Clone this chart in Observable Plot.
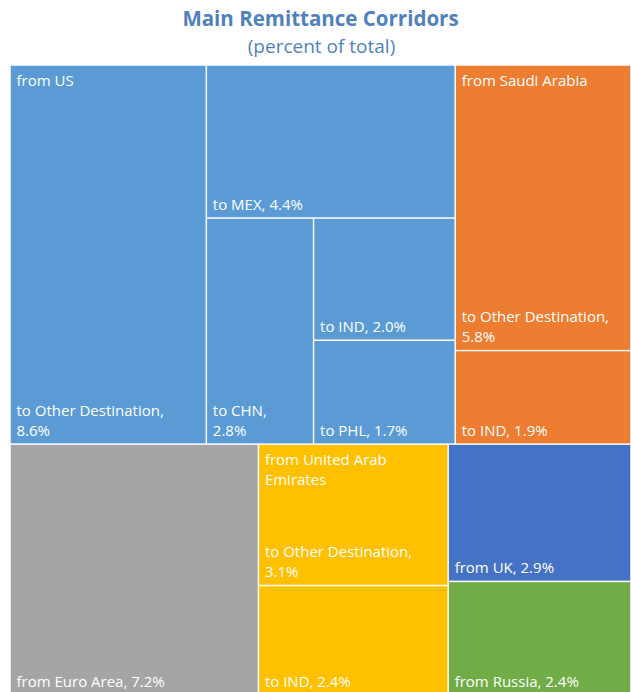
<!DOCTYPE html>
<html>
<head>
<meta charset="utf-8">
<script src="https://cdn.jsdelivr.net/npm/d3@7"></script>
<script src="https://cdn.jsdelivr.net/npm/@observablehq/plot@0.6"></script>
<style>
  html, body { margin: 0; padding: 0; background: #fff; overflow: hidden; }
  #title { font: bold 20.5px 'Open Sans', sans-serif; color: #4F81BD; text-align: center; height: 36px; line-height: 36px; padding-left: 10px; }
  #subtitle { font: 19px 'Open Sans', sans-serif; color: #4F81BD; text-align: center; height: 20px; line-height: 20px; padding-left: 12px; }
</style>
</head>
<body>
<div id="title">Main Remittance Corridors</div>
<div id="subtitle">(percent of total)</div>
<div id="chart"></div>
<script>
// ---- data ----
const sources = ["US", "US", "US", "US", "US", "Saudi Arabia", "Saudi Arabia", "Euro Area", "United Arab Emirates", "United Arab Emirates", "UK", "Russia"];
const destinations = ["Other Destination", "MEX", "CHN", "IND", "PHL", "Other Destination", "IND", null, "Other Destination", "IND", null, null];
const shares = [8.6, 4.4, 2.8, 2.0, 1.7, 5.8, 1.9, 7.2, 3.1, 2.4, 2.9, 2.4];
const groupNames = ["US", "Saudi Arabia", "Euro Area", "United Arab Emirates", "UK", "Russia"];
const groupColors = ["#5B9BD5", "#ED7D31", "#A5A5A5", "#FFC000", "#4472C4", "#70AD47"];

const rows = shares.map((s, i) => ({source: sources[i], destination: destinations[i], share: s}));

// ---- layout ----
const W = 621, H = 630;
const squarify = d3.treemapSquarify.ratio(1);
function tile(node, x0, y0, x1, y1) {
  (node.depth === 0 ? squarify : d3.treemapBinary)(node, x0, y0, x1, y1);
}
const root = d3.hierarchy(d3.group(rows, d => d.source))
  .sum(d => d.share)
  .sort((a, b) => b.value - a.value);
d3.treemap().size([W, H]).tile(tile).round(false)(root);
const leaves = root.leaves();
const headers = root.children.filter(g => g.children.length > 1 || g.children[0].data.destination);

const fontSize = 15;
const ctx = document.createElement("canvas").getContext("2d");
ctx.font = `${fontSize}px 'Open Sans'`;
function wrap(text, maxWidth) {
  const words = text.split(" ");
  const lines = [];
  let line = "";
  for (const w of words) {
    const t = line ? line + " " + w : w;
    if (line && ctx.measureText(t).width > maxWidth) { lines.push(line); line = w; }
    else line = t;
  }
  if (line) lines.push(line);
  return lines.join("\n");
}
const leafLabel = d => {
  const r = d.data;
  const t = r.destination ? `to ${r.destination}, ${r.share.toFixed(1)}%` : `from ${r.source}, ${r.share.toFixed(1)}%`;
  return wrap(t, d.x1 - d.x0 - 20);
};
const headerLabel = g => wrap(`from ${g.data[0]}`, g.x1 - g.x0 - 20);

const chart = Plot.plot({
  width: 631,
  height: 639,
  marginLeft: 10,
  marginRight: 0,
  marginTop: 9,
  marginBottom: 0,
  style: {fontFamily: "'Open Sans', sans-serif"},
  x: {domain: [0, W], axis: null},
  y: {domain: [0, H], axis: null, reverse: true},
  color: {domain: groupNames, range: groupColors},
  marks: [
    Plot.rect(leaves, {x1: "x0", x2: "x1", y1: "y0", y2: "y1", fill: d => d.data.source, inset: 0.75}),
    Plot.text(leaves, {x: "x0", y: "y1", text: leafLabel, textAnchor: "start", lineAnchor: "bottom", dx: 6, dy: -9, fill: "white", fontSize, lineHeight: 1.33}),
    Plot.text(headers, {x: "x0", y: "y0", text: headerLabel, textAnchor: "start", lineAnchor: "top", dx: 6, dy: 6, fill: "white", fontSize, lineHeight: 1.33})
  ]
});
document.getElementById("chart").appendChild(chart);
</script>
</body>
</html>
